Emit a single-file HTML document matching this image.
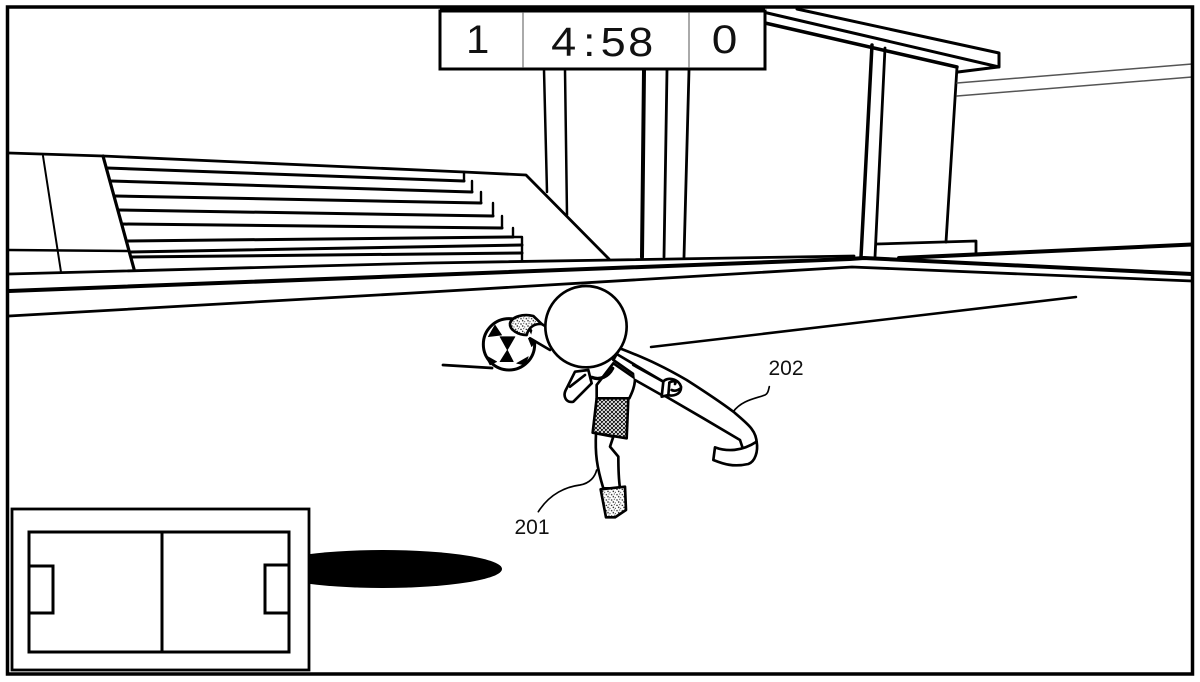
<!DOCTYPE html>
<html><head><meta charset="utf-8"><style>
html,body{margin:0;padding:0;background:#fff;width:1200px;height:682px;overflow:hidden}
svg{display:block}
text{font-family:"Liberation Sans",sans-serif;fill:#111}
</style></head><body>
<svg width="1200" height="682" viewBox="0 0 1200 682" xmlns="http://www.w3.org/2000/svg">
<defs>
<pattern id="st" width="16" height="16" patternUnits="userSpaceOnUse"><rect width="16" height="16" fill="#fff"/><circle cx="3" cy="4" r="2.2" fill="#111"/><circle cx="11" cy="2" r="1.6" fill="#111"/><circle cx="8" cy="10" r="2.2" fill="#111"/><circle cx="14" cy="13" r="1.6" fill="#111"/></pattern>
<pattern id="ht" width="12" height="12" patternUnits="userSpaceOnUse"><rect width="12" height="12" fill="#fff"/><path d="M-3 3L3 -3M0 12L12 0M9 15L15 9M-3 9L3 15M0 0L12 12M9 -3L15 3" stroke="#000" stroke-width="2.6"/></pattern>
</defs>
<rect width="1200" height="682" fill="#fff"/>
<g fill="none" stroke="#000" stroke-linecap="round" stroke-linejoin="round">
<!-- building -->
<path d="M544 70L547 192M565 70L567 215" stroke-width="2.5"/>
<path d="M644 70L642 257" stroke-width="4"/>
<path d="M667 70L664 257M689 70L684 257" stroke-width="2.8"/>
<path d="M872 45L861 257" stroke-width="3.5"/>
<path d="M885 48L875 257M957 67L946 242" stroke-width="2.8"/>
<path d="M877 244L976 241L976 253" stroke-width="2.8"/>
<path d="M797 9L999 53L999 67L763 12" stroke-width="3"/>
<path d="M765 23L957 67" stroke-width="3.5"/>
<path d="M958 72L998 67" stroke-width="3"/>
<path d="M957 83L1192 64M957 96L1192 77" stroke="#555" stroke-width="1.5"/>
<!-- stands -->
<path d="M9 153L103 156L464 172L526 175L609 259" stroke-width="2.8"/>
<path d="M103 156L134 269" stroke-width="3.2"/>
<path d="M43 156L61 272" stroke-width="2"/>
<path d="M9 250L128 251" stroke-width="2.5"/>
<path d="M107 168L464 181M111 181L472 192M115 196L481 203M118 210L493 216M122 224L502 228M128 241L513 237M130 252L522 245M131 257L522 253" stroke-width="3"/>
<path d="M464 172V181M472 181V192M481 192V203M493 203V216M502 216V228M513 228V237M513 237H522V260" stroke-width="2.4"/>
<!-- ground -->
<path d="M9 274L430 263L854 256" stroke-width="2.8"/>
<path d="M9 291L430 275L850 259L864 258L1192 274" stroke-width="4"/>
<path d="M9 316L430 292L852 267L1192 281" stroke-width="2.8"/>
<path d="M899 258L1192 244.5" stroke-width="4"/>
<path d="M651 347L1076 297" stroke-width="2.5"/>
<path d="M443 365L492 368" stroke-width="2.8"/>
</g>
<!-- shadow -->
<ellipse cx="383" cy="569" rx="119" ry="19" fill="#000"/>
<!-- minimap -->
<g fill="#fff" stroke="#000">
<rect x="12" y="509" width="297" height="161" stroke-width="2.8"/>
<rect x="29" y="532" width="260" height="120" stroke-width="3"/>
<path d="M162 532V652" stroke-width="3"/>
<rect x="29" y="566" width="24" height="47" stroke-width="3"/>
<rect x="265" y="565" width="24" height="48" stroke-width="3"/>
</g>
<!-- scoreboard -->
<rect x="440" y="11" width="325" height="58" fill="#fff" stroke="#000" stroke-width="3"/>
<path d="M440 10.5H765" stroke="#000" stroke-width="4"/>
<path d="M523 12V68M689 12V68" stroke="#555" stroke-width="1"/>
<text transform="translate(0,53) scale(1.05,1)" x="455" y="0" font-size="40" text-anchor="middle">1</text>
<text transform="translate(0,56) scale(1.1,1)" x="501 530 546 571" y="0" font-size="41">4:58</text>
<text transform="translate(0,53) scale(1.15,1)" x="630" y="0" font-size="40" text-anchor="middle">0</text>
<!-- figure, in 3x local coordinates -->
<g transform="translate(440 280) scale(.33333)" stroke="#000" stroke-width="8" stroke-linecap="round" stroke-linejoin="round" fill="#fff">
<path d="M295 695C330 640 380 620 420 615C450 610 465 590 470 570" fill="none" stroke-width="5"/>
<path d="M880 395C905 360 950 355 975 345C985 340 985 330 988 320" fill="none" stroke-width="5"/>
<path d="M540 205C630 240 680 265 740 300C790 332 840 365 880 395C920 430 950 450 950 490L910 510L900 480L790 415L670 345L520 240Z"/>
<path d="M535 225L670 305" fill="none"/>
<path d="M825 502C860 515 905 515 950 485C955 515 945 545 925 552C880 562 850 552 820 540Z"/>
<circle cx="207" cy="193" r="77" stroke-width="9"/>
<path d="M165 135L145 170L185 165ZM180 170L225 170L202 210ZM202 210L180 245L220 245ZM135 225L170 245L150 255ZM230 250L265 230L255 255ZM265 175L285 185L275 200Z" fill="#000" stroke-width="2"/>
<path d="M285 125L330 130L330 210L270 175Z" stroke="none"/>
<path d="M305 132L318 140M270 175L330 210" fill="none"/>
<path d="M210 130C215 110 250 100 280 108L305 132C280 130 265 145 260 165C235 165 208 150 210 130Z" fill="url(#st)"/>
<path d="M468 460C465 520 470 560 490 625L540 625C535 590 535 560 535 530L510 500L520 470Z"/>
<path d="M482 628L555 620L558 690L525 712L498 712Z" fill="url(#st)"/>
<path d="M470 355L470 315L520 250L585 295C585 320 575 340 568 355Z"/>
<path d="M585 300L670 348L670 305L580 255" />
<path d="M405 275L445 270L455 310L400 365C380 370 365 350 380 325Z"/>
<path d="M390 320L435 285" fill="none"/>
<path d="M455 292C480 302 505 290 518 265" fill="none" stroke-width="10"/>
<path d="M470 355L565 355L560 475L458 458Z" fill="url(#ht)"/>
<path d="M670 305C680 290 715 295 723 320C725 345 695 350 685 345L665 350Z"/>
<path d="M688 310L685 345M688 308C700 300 710 305 705 312M695 330C705 335 715 330 722 325" fill="none"/>
<circle cx="438" cy="140" r="122"/>
</g>
<text x="532" y="534" font-size="21" text-anchor="middle">201</text>
<text x="786" y="375" font-size="21" text-anchor="middle">202</text>
<rect x="7.5" y="7" width="1185" height="667" fill="none" stroke="#000" stroke-width="3.5"/>
</svg>
</body></html>
